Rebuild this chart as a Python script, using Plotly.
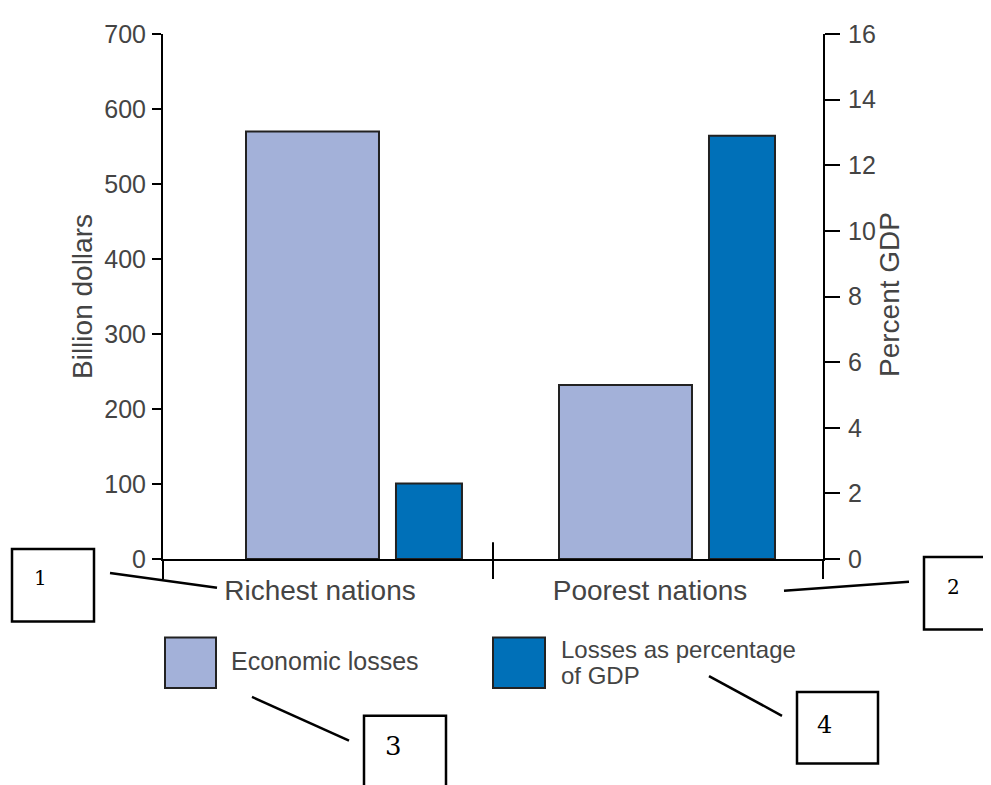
import plotly.graph_objects as go

# ---------------- data ----------------
categories = ["Richest nations", "Poorest nations"]
economic_losses = [570, 232]          # billion dollars (left axis)
losses_pct_gdp = [2.3, 12.9]          # percent GDP (right axis)
series_names = ["Economic losses", "Losses as percentage of GDP"]
left_ticks = [0, 100, 200, 300, 400, 500, 600, 700]
right_ticks = [0, 2, 4, 6, 8, 10, 12, 14, 16]
callout_labels = ["1", "2", "3", "4"]

# ---------------- styling ----------------
PAGE_OFF = 8                      # default body margin of the html page
W, H = 991 - PAGE_OFF, 785 - PAGE_OFF
L, R, T, B = 163, 823, 30, 559    # plot area in page pixels
PW, PH = R - L, B - T
FONT = "Liberation Sans"
TXT = "#444444"
LIGHT = "#A3B1D9"
BLUE = "#0070B8"
EDGE = "#222222"


def px(x):
    return (x - L) / PW


def py(y):
    return (B - y) / PH


fig = go.Figure()
fig.add_trace(go.Bar(
    x=categories, y=economic_losses, name=series_names[0], yaxis="y",
    offset=[-0.2485, -0.30], width=0.403,
    marker=dict(color=LIGHT, line=dict(color=EDGE, width=2)),
    showlegend=False,
))
fig.add_trace(go.Bar(
    x=categories, y=losses_pct_gdp, name=series_names[1], yaxis="y2",
    offset=[0.206, 0.1545], width=0.2,
    marker=dict(color=BLUE, line=dict(color=EDGE, width=2)),
    showlegend=False,
))

tickfont = dict(family=FONT, size=25, color=TXT)
common_y = dict(showgrid=False, zeroline=False, tickwidth=2, tickcolor="black",
                fixedrange=True)

fig.update_layout(
    width=W, height=H, autosize=False,
    margin=dict(l=L - PAGE_OFF, r=W - (R - PAGE_OFF), t=T - PAGE_OFF,
                b=H - (B - PAGE_OFF), pad=0),
    paper_bgcolor="white", plot_bgcolor="white",
    barmode="overlay",
    font=dict(family=FONT, color=TXT),
    xaxis=dict(type="category", range=[-0.5, 1.5], showline=True, linecolor="black",
               linewidth=2, ticks="outside", tickson="boundaries", ticklen=18,
               tickwidth=2, tickcolor="black",
               tickfont=dict(family=FONT, size=28, color=TXT), showgrid=False,
               zeroline=False, ticklabelshift=-8, ticklabelstandoff=5),
    yaxis=dict(range=[0, 700], tickvals=left_ticks, ticks="outside", ticklen=9,
               showline=True, linecolor="black", linewidth=2, tickfont=tickfont,
               ticklabelstandoff=1, **common_y),
    yaxis3=dict(range=[0, 700], tickvals=left_ticks, ticks="inside", ticklen=16,
                overlaying="y", side="left", showticklabels=False, showline=False,
                **common_y),
    yaxis2=dict(range=[0, 16], tickvals=right_ticks, ticks="outside", ticklen=15,
                overlaying="y", side="right", showline=True, linecolor="black",
                linewidth=2, tickfont=tickfont, ticklabelstandoff=3, **common_y),
    yaxis4=dict(range=[0, 16], tickvals=right_ticks, ticks="inside", ticklen=16,
                overlaying="y", side="right", showticklabels=False, showline=False,
                **common_y),
)

shapes = []
annotations = []

# upper part of the central category divider tick
shapes.append(dict(type="line", xref="x", yref="paper", x0=0.5, x1=0.5,
                   y0=0, y1=py(542), line=dict(color="black", width=2)))

# axis titles
annotations.append(dict(text="Billion dollars", xref="paper", yref="paper",
                        x=px(83), y=py(295), textangle=-90, showarrow=False,
                        xanchor="center", yanchor="middle",
                        font=dict(family=FONT, size=28, color=TXT)))
annotations.append(dict(text="Percent GDP", xref="paper", yref="paper",
                        x=px(889), y=py(293), textangle=-90, showarrow=False,
                        xanchor="center", yanchor="middle",
                        font=dict(family=FONT, size=28, color=TXT)))

# custom legend
for (x0, x1), col in zip([(165, 216), (493, 545)], [LIGHT, BLUE]):
    shapes.append(dict(type="rect", xref="paper", yref="paper",
                       x0=px(x0), x1=px(x1), y0=py(689), y1=py(638),
                       fillcolor=col, line=dict(color=EDGE, width=2)))
annotations.append(dict(text=series_names[0], xref="paper", yref="paper",
                        x=px(229), y=py(662), xanchor="left", yanchor="middle",
                        showarrow=False, font=dict(family=FONT, size=25, color=TXT)))
first, second = series_names[1].split(" of ")
annotations.append(dict(text=first, xref="paper", yref="paper",
                        x=px(559), y=py(650), xanchor="left", yanchor="middle",
                        showarrow=False, font=dict(family=FONT, size=24, color=TXT)))
annotations.append(dict(text="of " + second, xref="paper", yref="paper",
                        x=px(559), y=py(676), xanchor="left", yanchor="middle",
                        showarrow=False, font=dict(family=FONT, size=24, color=TXT)))

# numbered callout boxes with leader lines
boxes = [(12, 549, 94, 622), (924, 557, 1005, 630), (364, 717, 446, 800), (797, 693, 878, 765)]
label_pos = [(40, 578, 20), (953, 587, 20), (393, 747, 26), (825, 726, 24)]
leaders = [((110, 573), (217, 588)), ((784, 591), (909, 582)),
           ((252, 698), (349, 742)), ((709, 677), (782, 717))]
for (bx0, by0, bx1, by1), (lx, ly, fs), ((ax, ay), (bx, by)), lab in zip(
        boxes, label_pos, leaders, callout_labels):
    shapes.append(dict(type="rect", xref="paper", yref="paper",
                       x0=px(bx0), x1=px(bx1), y0=py(by1), y1=py(by0),
                       fillcolor="white", line=dict(color="black", width=2.5)))
    shapes.append(dict(type="line", xref="paper", yref="paper",
                       x0=px(ax), y0=py(ay), x1=px(bx), y1=py(by),
                       line=dict(color="black", width=2.5)))
    annotations.append(dict(text=lab, xref="paper", yref="paper", x=px(lx), y=py(ly),
                            xanchor="center", yanchor="middle", showarrow=False,
                            font=dict(family="DejaVu Serif", size=fs, color="black")))

fig.update_layout(shapes=shapes, annotations=annotations)
fig.write_html("out.html")
